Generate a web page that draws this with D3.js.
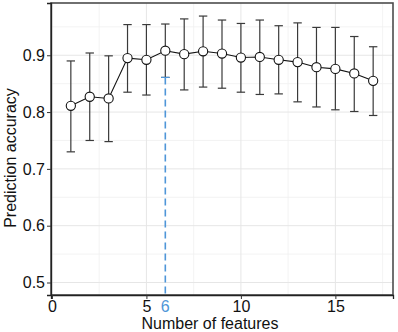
<!DOCTYPE html>
<html>
<head>
<meta charset="utf-8">
<script src="https://cdn.jsdelivr.net/npm/d3@7"></script>
<style>
  body { margin: 0; background: #fff; }
  text { font-family: "Liberation Sans", Arial, sans-serif; }
</style>
</head>
<body>
<svg id="chart" width="398" height="332"></svg>
<script>
// number of features vs accuracy, with error bars (lower / upper)
const features = [1, 2, 3, 4, 5, 6, 7, 8, 9, 10, 11, 12, 13, 14, 15, 16, 17];
const accuracy = [0.811, 0.827, 0.824, 0.895, 0.892, 0.908, 0.902, 0.907, 0.903, 0.896, 0.897, 0.892, 0.888, 0.879, 0.876, 0.868, 0.855];
const upper    = [0.890, 0.904, 0.899, 0.954, 0.954, 0.955, 0.964, 0.969, 0.962, 0.956, 0.962, 0.952, 0.957, 0.949, 0.949, 0.933, 0.915];
const lower    = [0.730, 0.750, 0.748, 0.835, 0.830, 0.861, 0.839, 0.844, 0.842, 0.835, 0.831, 0.832, 0.818, 0.809, 0.804, 0.801, 0.794];
const bestK = 6;
const xTicks = [0, 5, 10, 15];
const xMinor = [2.5, 7.5, 12.5, 17.5];
const yTicks = [0.5, 0.6, 0.7, 0.8, 0.9];
const yMinor = [0.55, 0.65, 0.75, 0.85, 0.95];

const svg = d3.select("#chart"),
    panel = { left: 51, right: 393, top: 3, bottom: 295 };

const x = d3.scaleLinear().domain([-0.05, 18.05]).range([panel.left, panel.right]);
const y = d3.scaleLinear().domain([0.478, 0.992]).range([panel.bottom, panel.top]);

const data = features.map((f, i) => ({ f: f, acc: accuracy[i], lo: lower[i], hi: upper[i] }));

// grid
const grid = svg.append("g");
grid.selectAll(".xminor").data(xMinor).enter().append("line")
    .attr("x1", d => x(d)).attr("x2", d => x(d)).attr("y1", panel.top).attr("y2", panel.bottom)
    .attr("stroke", "#f0f0f0").attr("stroke-width", 0.8);
grid.selectAll(".yminor").data(yMinor).enter().append("line")
    .attr("y1", d => y(d)).attr("y2", d => y(d)).attr("x1", panel.left).attr("x2", panel.right)
    .attr("stroke", "#f0f0f0").attr("stroke-width", 0.8);
grid.selectAll(".xmajor").data(xTicks).enter().append("line")
    .attr("x1", d => x(d)).attr("x2", d => x(d)).attr("y1", panel.top).attr("y2", panel.bottom)
    .attr("stroke", "#e6e6e6").attr("stroke-width", 1);
grid.selectAll(".ymajor").data(yTicks).enter().append("line")
    .attr("y1", d => y(d)).attr("y2", d => y(d)).attr("x1", panel.left).attr("x2", panel.right)
    .attr("stroke", "#e6e6e6").attr("stroke-width", 1);

// panel border
svg.append("rect")
    .attr("x", panel.left).attr("y", panel.top)
    .attr("width", panel.right - panel.left).attr("height", panel.bottom - panel.top)
    .attr("fill", "none").attr("stroke", "#4d4d4d").attr("stroke-width", 1.6);

// axes
const xAxis = svg.append("g").attr("transform", `translate(0,${panel.bottom})`)
    .call(d3.axisBottom(x).tickValues(xTicks).tickFormat(d3.format("d")).tickSize(4).tickPadding(1.5));
const yAxis = svg.append("g").attr("transform", `translate(${panel.left},0)`)
    .call(d3.axisLeft(y).tickValues(yTicks).tickFormat(d3.format(".1f")).tickSize(4).tickPadding(2));
[xAxis, yAxis].forEach(a => {
    a.select(".domain").attr("stroke", "#222").attr("stroke-width", 1.3);
    a.selectAll(".tick line").attr("stroke", "#333");
    a.selectAll(".tick text").attr("fill", "#111").style("font-size", "16px")
        .style("font-family", "'Liberation Sans', Arial, sans-serif");
});

// error bars
const eb = svg.append("g").attr("stroke", "#3a3a3a").attr("stroke-width", 1.2);
eb.selectAll(".v").data(data).enter().append("line")
    .attr("x1", d => x(d.f)).attr("x2", d => x(d.f))
    .attr("y1", d => y(d.lo)).attr("y2", d => y(d.hi));
eb.selectAll(".ct").data(data).enter().append("line")
    .attr("x1", d => x(d.f) - 4.2).attr("x2", d => x(d.f) + 4.2)
    .attr("y1", d => y(d.hi)).attr("y2", d => y(d.hi));
eb.selectAll(".cb").data(data).enter().append("line")
    .attr("x1", d => x(d.f) - 4.2).attr("x2", d => x(d.f) + 4.2)
    .attr("y1", d => y(d.lo)).attr("y2", d => y(d.lo));

// dashed line at best number of features
const best = data.find(d => d.f === bestK);
svg.append("line")
    .attr("x1", x(bestK)).attr("x2", x(bestK))
    .attr("y1", y(best.lo)).attr("y2", panel.bottom)
    .attr("stroke", "#4f96d8").attr("stroke-width", 1.6)
    .attr("stroke-dasharray", "7,4");
svg.append("line")
    .attr("x1", x(bestK) - 4.2).attr("x2", x(bestK) + 4.2)
    .attr("y1", y(best.lo)).attr("y2", y(best.lo))
    .attr("stroke", "#4f96d8").attr("stroke-width", 1.2);

// line + points
svg.append("path").datum(data)
    .attr("fill", "none").attr("stroke", "#111").attr("stroke-width", 1.1)
    .attr("d", d3.line().x(d => x(d.f)).y(d => y(d.acc)));
svg.selectAll(".pt").data(data).enter().append("circle")
    .attr("cx", d => x(d.f)).attr("cy", d => y(d.acc)).attr("r", 4.6)
    .attr("fill", "#fff").attr("stroke", "#111").attr("stroke-width", 1.1);

// blue "6" label next to the axis
svg.append("text")
    .attr("x", x(bestK)).attr("y", 311.5)
    .attr("text-anchor", "middle")
    .attr("fill", "#4f96d8")
    .style("font-size", "16px")
    .text(bestK);

// axis titles
svg.append("text")
    .attr("x", 210).attr("y", 328.5)
    .attr("text-anchor", "middle")
    .attr("fill", "#111")
    .style("font-size", "16px")
    .text("Number of features");
svg.append("text")
    .attr("transform", "translate(15.5,158) rotate(-90)")
    .attr("text-anchor", "middle")
    .attr("fill", "#111")
    .style("font-size", "16px")
    .text("Prediction accuracy");
</script>
</body>
</html>
